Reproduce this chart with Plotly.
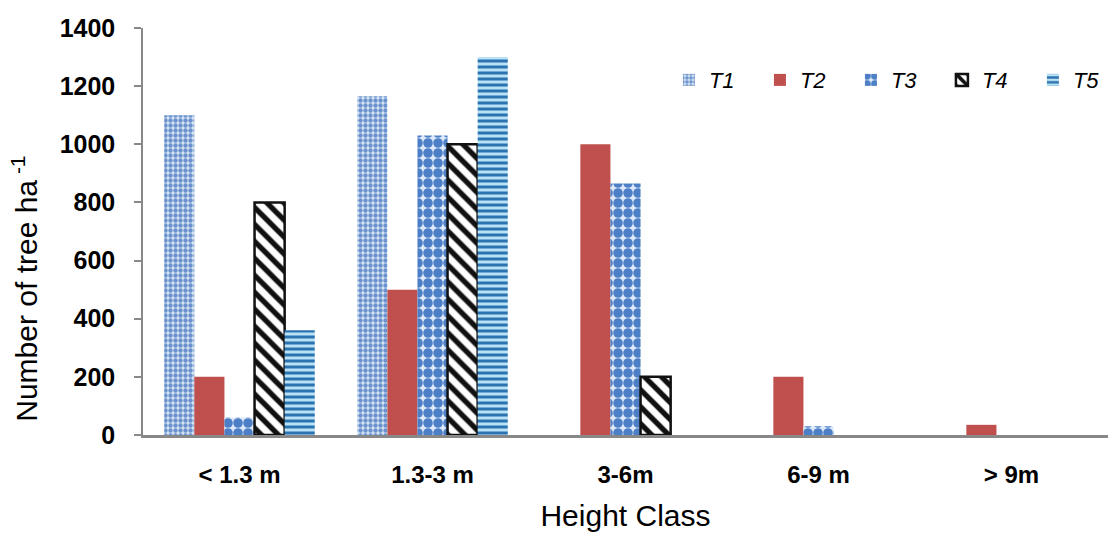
import plotly.graph_objects as go

categories = ["< 1.3 m", "1.3-3 m", "3-6m", "6-9 m", "> 9m"]
series_names = ["T1", "T2", "T3", "T4", "T5"]
t1 = [1100, 1165, None, None, None]
t2 = [200, 500, 1000, 200, 35]
t3 = [60, 1030, 865, 30, None]
t4 = [800, 1000, 200, None, None]
t5 = [360, 1300, None, None, None]
y_ticks = [0, 200, 400, 600, 800, 1000, 1200, 1400]

values = [t1, t2, t3, t4, t5]
FONT = "Liberation Sans, Arial, sans-serif"

styles = [
    dict(marker=dict(color="#c6d9f1", line=dict(width=0),
                     pattern=dict(shape=".", fgcolor="#6a92cc", bgcolor="#d8e5f5",
                                  size=5, solidity=0.6, fillmode="replace"))),
    dict(marker=dict(color="#c0504d", line=dict(width=0))),
    dict(marker=dict(color="#4f81bd", line=dict(width=0),
                     pattern=dict(shape=".", fgcolor="#4d7fc6", bgcolor="#dde9f8",
                                  size=10, solidity=0.72, fillmode="replace"))),
    dict(marker=dict(color="white", line=dict(width=2.5, color="#111111"),
                     pattern=dict(shape="\\", fgcolor="#111111", bgcolor="white",
                                  size=12, solidity=0.45, fillmode="replace"))),
    dict(marker=dict(color="#2e75b6", line=dict(width=0),
                     pattern=dict(shape="-", fgcolor="#2c72b0", bgcolor="#b8e2f5",
                                  size=6, solidity=0.5, fillmode="replace"))),
]

fig = go.Figure()
for name, vals, st in zip(series_names, values, styles):
    fig.add_trace(go.Bar(x=categories, y=vals, name=f"<i>{name}</i>", **st))

fig.update_layout(
    width=1110, height=533,
    margin=dict(l=143, r=2, t=28, b=98, autoexpand=False),
    paper_bgcolor="white", plot_bgcolor="white",
    barmode="group", bargap=0.22, bargroupgap=0,
    font=dict(family=FONT, color="black"),
    legend=dict(orientation="h", x=0.545, y=0.872, xanchor="left", yanchor="middle",
                font=dict(size=22, family=FONT),
                itemwidth=30, entrywidth=46, entrywidthmode="pixels",
                bgcolor="rgba(0,0,0,0)", traceorder="normal"),
    showlegend=True,
)

# y-axis title sits a little below the vertical middle of the plot
fig.add_annotation(
    text="Number of tree ha<sup> -1</sup>", textangle=-90,
    xref="paper", yref="paper", x=-0.122, y=0.36,
    xanchor="center", yanchor="middle", showarrow=False,
    font=dict(size=30, family=FONT, color="black"),
)

fig.update_xaxes(
    showline=True, linecolor="#888888", linewidth=2.5,
    ticks="", showgrid=False, ticklabelstandoff=16,
    tickfont=dict(size=24, family=FONT, weight="bold"),
    title=dict(text="Height Class", font=dict(size=30, family=FONT), standoff=19),
)
fig.update_yaxes(
    range=[0, 1400], tickvals=y_ticks,
    showline=True, linecolor="#888888", linewidth=1.5,
    ticks="outside", ticklen=7, tickcolor="#888888", tickwidth=1.5,
    showgrid=False, zeroline=False, ticklabelstandoff=14,
    tickfont=dict(size=25, family=FONT, weight="bold"),
)

fig.write_html("out.html")
